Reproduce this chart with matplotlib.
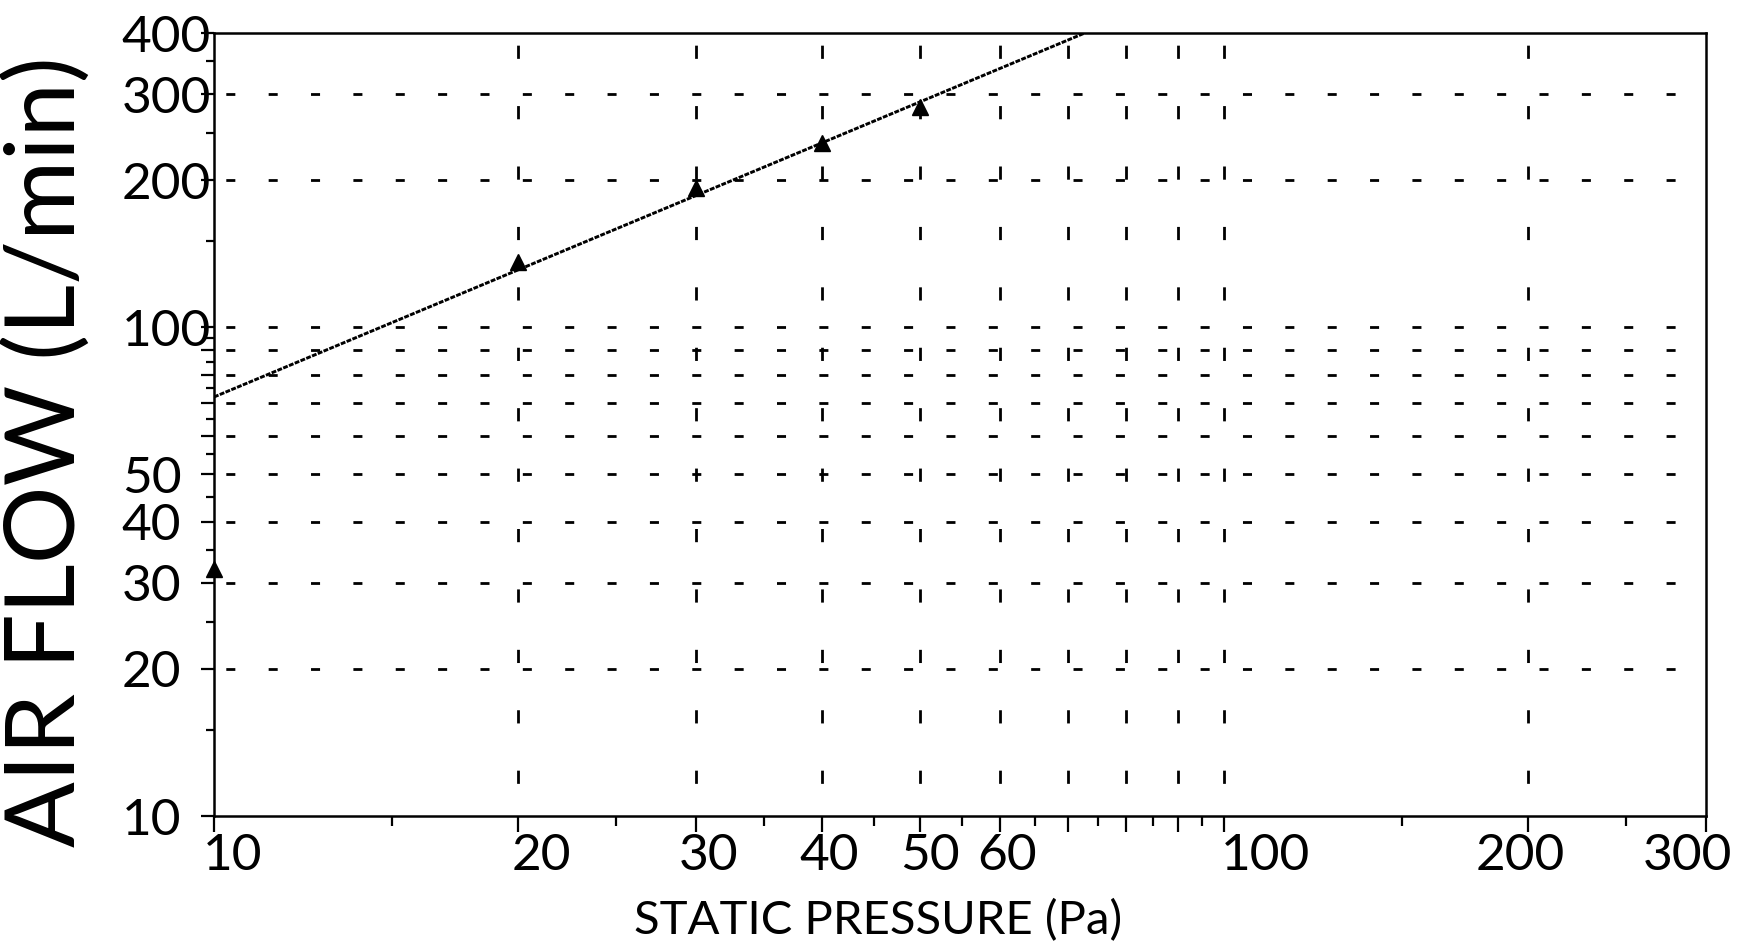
import matplotlib
matplotlib.use("Agg")
import matplotlib.pyplot as plt
from matplotlib.ticker import FixedLocator, NullFormatter
from matplotlib.transforms import ScaledTranslation

plt.rcParams['font.family'] = ['Lato', 'DejaVu Sans']
plt.rcParams['lines.scale_dashes'] = False

# measured points (static pressure in Pa, air flow in L/min)
pressure = [10, 20, 30, 40, 50]
airflow = [32, 136, 193, 238, 282]

# fitted line end points
fit_pressure = [10, 72.8]
fit_airflow = [72, 400]

x_major = [10, 20, 30, 40, 50, 60, 70, 80, 90, 100, 200, 300]
x_minor = [15, 25, 35, 45, 55, 65, 75, 85, 95, 150, 250]
x_labels = ['10', '20', '30', '40', '50', '60', '', '', '', '100', '200', '300']

y_major = [10, 20, 30, 40, 50, 60, 70, 80, 90, 100, 200, 300, 400]
y_minor = [15, 25, 35, 45, 55, 65, 75, 85, 95, 150, 250, 350]
y_labels = ['10', '20', '30', '40', '50', '', '', '', '', '100', '200', '300', '400']

x_grid = [20, 30, 40, 50, 60, 70, 80, 90, 100, 200]
y_grid = [20, 30, 40, 50, 60, 70, 80, 90, 100, 200, 300]

W, H = 1740, 946
fig = plt.figure(figsize=(W / 100, H / 100), dpi=100)
ax = fig.add_axes([214 / W, 1 - 816 / H, (1706 - 214) / W, (816 - 33) / H])
ax.set_xscale('log')
ax.set_yscale('log')
ax.set_xlim(10, 300)
ax.set_ylim(10, 400)

# plotter style dashed grid
for v in y_grid:
    ax.axhline(v, color='k', lw=2.0, linestyle=(22, (6.5, 24)), zorder=1)
for v in x_grid:
    ax.axvline(v, color='k', lw=2.0, linestyle=(20, (9.5, 34)), zorder=1)

ax.plot(fit_pressure, fit_airflow, color='k', lw=2.1, linestyle=(0, (3.5, 1)), zorder=2)
ax.plot(pressure, airflow, '^', color='k', ms=11.5, clip_on=False, zorder=3)

for s in ax.spines.values():
    s.set_linewidth(1.8)

ax.xaxis.set_major_locator(FixedLocator(x_major))
ax.xaxis.set_minor_locator(FixedLocator(x_minor))
ax.xaxis.set_minor_formatter(NullFormatter())
ax.set_xticklabels(x_labels)
ax.yaxis.set_major_locator(FixedLocator(y_major))
ax.yaxis.set_minor_locator(FixedLocator(y_minor))
ax.yaxis.set_minor_formatter(NullFormatter())
ax.set_yticklabels(y_labels)

ax.tick_params(axis='x', which='major', length=11.5, width=1.6, labelsize=37, pad=1)
ax.tick_params(axis='x', which='minor', length=7, width=1.6)
ax.tick_params(axis='y', which='major', length=9.4, width=1.6, labelsize=37, pad=57)
ax.tick_params(axis='y', which='minor', length=5.8, width=1.6)

# hand-placed label offsets (px)
x_shift = [19, 23, 13, 7, 10, 7, 0, 0, 0, 41, -8, -19]
for lbl, dx in zip(ax.get_xticklabels(), x_shift):
    lbl.set_transform(lbl.get_transform() + ScaledTranslation(dx / 100, 0, fig.dpi_scale_trans))
for lbl in ax.get_yticklabels():
    lbl.set_horizontalalignment('left')

ax.set_xlabel('STATIC PRESSURE (Pa)', fontsize=34, va='center')
ax.xaxis.set_label_coords(0.445, -0.134)
ax.set_ylabel('AIR FLOW (L/min)', fontsize=70, va='center')
ax.yaxis.set_label_coords(-0.112, 0.465)

fig.savefig('out.png', dpi=100)
